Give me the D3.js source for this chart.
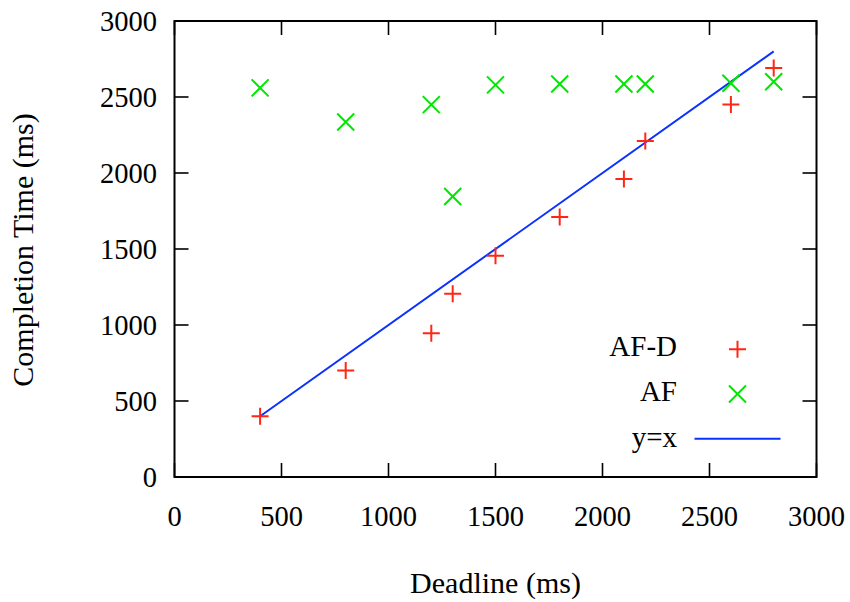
<!DOCTYPE html>
<html>
<head>
<meta charset="utf-8">
<script src="https://cdn.jsdelivr.net/npm/d3@7"></script>
<style>
  html, body { margin: 0; padding: 0; background: #fff; }
  svg { display: block; }
  text { font-family: "Liberation Serif", "Times New Roman", serif; fill: #000; }
</style>
</head>
<body>
<svg id="chart" width="850" height="602"></svg>
<script>
// ---- data ----
const deadlines = [400, 800, 1200, 1300, 1500, 1800, 2100, 2200, 2600, 2800];
const afdValues = [400, 700, 945, 1205, 1455, 1710, 1960, 2210, 2450, 2690];
const afValues  = [2560, 2335, 2450, 1845, 2580, 2585, 2585, 2585, 2590, 2600];
const identityRange = [400, 2800];
const xTicks = [0, 500, 1000, 1500, 2000, 2500, 3000];
const yTicks = [0, 500, 1000, 1500, 2000, 2500, 3000];
const seriesNames = ["AF-D", "AF", "y=x"];

(function () {
// ---- layout ----
const svg = d3.select("#chart");
const pLeft = 174.5, pRight = 816.5, pTop = 21, pBottom = 477;
const x = d3.scaleLinear().domain([0, 3000]).range([pLeft, pRight]);
const y = d3.scaleLinear().domain([0, 3000]).range([pBottom, pTop]);

const red = "#ff2614", green = "#00e600", blue = "#0a32ff";
const tickFont = 28.5;

// ticks (mirrored on all four sides)
const tickLen = 14;
const g = svg.append("g");
xTicks.forEach(t => {
  g.append("line").attr("x1", x(t)).attr("x2", x(t)).attr("y1", pBottom).attr("y2", pBottom - tickLen)
    .attr("stroke", "#000").attr("stroke-width", 1.6);
  g.append("line").attr("x1", x(t)).attr("x2", x(t)).attr("y1", pTop).attr("y2", pTop + tickLen)
    .attr("stroke", "#000").attr("stroke-width", 1.6);
  g.append("text").attr("x", x(t)).attr("y", 526).attr("text-anchor", "middle")
    .attr("font-size", tickFont).text(d3.format("d")(t));
});
yTicks.forEach(t => {
  g.append("line").attr("x1", pLeft).attr("x2", pLeft + tickLen).attr("y1", y(t)).attr("y2", y(t))
    .attr("stroke", "#000").attr("stroke-width", 1.6);
  g.append("line").attr("x1", pRight).attr("x2", pRight - tickLen).attr("y1", y(t)).attr("y2", y(t))
    .attr("stroke", "#000").attr("stroke-width", 1.6);
  g.append("text").attr("x", 157).attr("y", y(t) + 9.5).attr("text-anchor", "end")
    .attr("font-size", tickFont).text(d3.format("d")(t));
});

// frame
svg.append("rect").attr("x", pLeft).attr("y", pTop).attr("width", pRight - pLeft).attr("height", pBottom - pTop)
  .attr("fill", "none").attr("stroke", "#000").attr("stroke-width", 2);

// axis titles
svg.append("text").attr("x", (pLeft + pRight) / 2).attr("y", 593).attr("text-anchor", "middle")
  .attr("font-size", 30).text("Deadline (ms)");
svg.append("text").attr("transform", "translate(33,250) rotate(-90)").attr("text-anchor", "middle")
  .attr("font-size", 30).text("Completion Time (ms)");

// y=x line
svg.append("line")
  .attr("x1", x(identityRange[0])).attr("y1", y(identityRange[0]))
  .attr("x2", x(identityRange[1])).attr("y2", y(identityRange[1]))
  .attr("stroke", blue).attr("stroke-width", 2);

// markers
const s = 8.5;
function plus(sel, cx, cy) {
  sel.append("path").attr("d", `M${cx - s},${cy}H${cx + s}M${cx},${cy - s}V${cy + s}`)
    .attr("stroke", red).attr("stroke-width", 2).attr("fill", "none");
}
function cross(sel, cx, cy) {
  sel.append("path").attr("d", `M${cx - s},${cy - s}L${cx + s},${cy + s}M${cx - s},${cy + s}L${cx + s},${cy - s}`)
    .attr("stroke", green).attr("stroke-width", 2).attr("fill", "none");
}
const marks = svg.append("g");
deadlines.forEach((d, i) => plus(marks, x(d), y(afdValues[i])));
deadlines.forEach((d, i) => cross(marks, x(d), y(afValues[i])));

// legend
const lg = svg.append("g");
const lx = 677, sx = 737.5;
const rows = [356, 401, 446.5];
seriesNames.forEach((name, i) => {
  lg.append("text").attr("x", lx).attr("y", rows[i]).attr("text-anchor", "end")
    .attr("font-size", 29).text(name);
});
plus(lg, sx, 349.3);
cross(lg, sx, 394);
lg.append("line").attr("x1", 694.5).attr("x2", 780.5).attr("y1", 438.7).attr("y2", 438.7)
  .attr("stroke", blue).attr("stroke-width", 2);
})();
</script>
</body>
</html>
